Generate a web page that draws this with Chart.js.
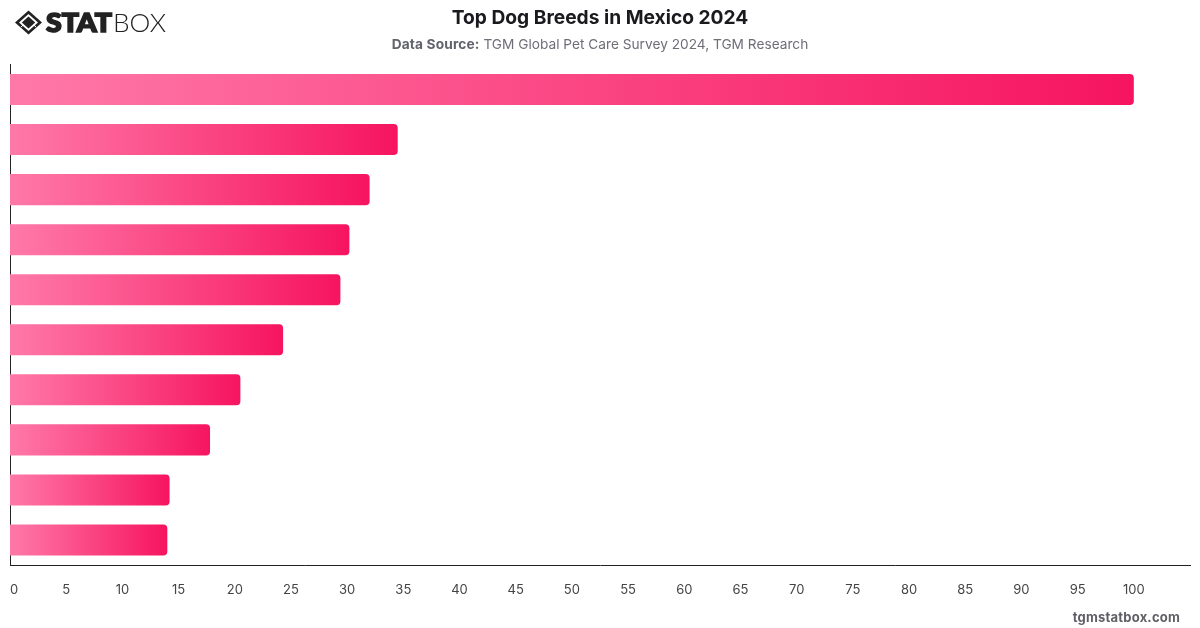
<!DOCTYPE html>
<html lang="en">
<head>
<meta charset="utf-8">
<title>Top Dog Breeds in Mexico 2024</title>
<script src="https://cdn.jsdelivr.net/npm/chart.js"></script>
<style>
  html, body { margin: 0; padding: 0; background: #fff; }
  .frame { position: relative; width: 1200px; height: 628px; overflow: hidden; font-family: Inter, sans-serif; }
  canvas { position: absolute; left: 0; top: 0; }
  .logo { position: absolute; left: 0; top: 0; }
  .title { position: absolute; left: 0; width: 1200px; top: 5px; text-align: center; font-size: 19.2px; line-height: 24px; font-weight: 700; color: #1a1a1e; }
  .source { position: absolute; left: 0; width: 1200px; top: 35px; text-align: center; font-size: 13.7px; line-height: 18px; color: #6e6e78; }
  .source b { font-weight: 700; color: #62626c; letter-spacing: 0.15px; }
  .site { position: absolute; right: 20px; top: 609px; font-size: 13px; line-height: 16px; font-weight: 700; color: #5f5f66; letter-spacing: 0.2px; }
</style>
</head>
<body>
<div class="frame">
  <canvas id="chart" width="1200" height="628"></canvas>
  <svg class="logo" width="200" height="50" viewBox="0 0 200 50">
    <path d="M28.5 10.5 L42 22.5 L28.5 34.5 L15 22.5 Z M28.5 14 L19 22.5 L28.5 31 L38 22.5 Z" fill="#222" fill-rule="evenodd"/>
    <path d="M28.5 16.5 L35.2 22.5 L28.5 28.5 L21.8 22.5 Z" fill="#222"/>
    <path d="M21 27 L23 25.2 M36 27 L34 25.2" stroke="#fff" stroke-width="1"/>
    <text x="46" y="32" font-family="Lato, sans-serif" font-weight="900" font-size="26" fill="#222" stroke="#222" stroke-width="1.6" textLength="66" lengthAdjust="spacingAndGlyphs">STAT</text>
    <text x="113" y="32" font-family="Lato, sans-serif" font-weight="300" font-size="26" fill="#222" textLength="53" lengthAdjust="spacingAndGlyphs">BOX</text>
  </svg>
  <div class="title">Top Dog Breeds in Mexico 2024</div>
  <div class="source"><b>Data Source:</b> TGM Global Pet Care Survey 2024, TGM Research</div>
  <div class="site">tgmstatbox.com</div>
</div>
<script>
// Breed names are not drawn on the axis, so the rows are just ranked
const ranks = ['1', '2', '3', '4', '5', '6', '7', '8', '9', '10'];
const shares = [100, 34.5, 32, 30.2, 29.4, 24.3, 20.5, 17.8, 14.2, 14];

const AXIS_MAX = 105;
const LAST_LABEL = 100;

// Each bar fades from light to full pink along its own length
function barGradient(context) {
  const { chart, parsed } = context;
  if (!chart.chartArea || !parsed) return '#fb4d87';
  const x = chart.scales.x;
  const g = chart.ctx.createLinearGradient(x.getPixelForValue(0), 0, x.getPixelForValue(parsed.x), 0);
  g.addColorStop(0, '#ff79a8');
  g.addColorStop(1, '#f61460');
  return g;
}

new Chart(document.getElementById('chart'), {
  type: 'bar',
  data: {
    labels: ranks,
    datasets: [{
      data: shares,
      backgroundColor: barGradient,
      borderRadius: 4,
      borderSkipped: 'start',
      barPercentage: 0.62,
      categoryPercentage: 1
    }]
  },
  options: {
    indexAxis: 'y',
    responsive: false,
    animation: false,
    layout: { padding: { left: 10, right: 10, top: 64.5, bottom: 23 } },
    plugins: { legend: { display: false }, tooltip: { enabled: false }, title: { display: false } },
    scales: {
      x: {
        min: 0,
        max: AXIS_MAX,
        // no extra side padding for the tick labels, the plot spans the full width
        afterFit: scale => {
          scale.height = 40;
          scale.paddingLeft = 0;
          scale.paddingRight = 0;
        },
        grid: { display: false },
        border: { display: true, color: '#222', width: 1 },
        ticks: {
          stepSize: 5,
          align: 'inner',
          autoSkip: false,
          maxRotation: 0,
          padding: 9,
          color: '#444',
          font: { family: 'Inter', size: 13 },
          callback: v => (v > LAST_LABEL ? '' : v)
        }
      },
      y: {
        afterFit: scale => { scale.width = 0; },
        grid: { display: false },
        border: { display: true, color: '#222', width: 1 },
        ticks: { display: false }
      }
    }
  }
});
</script>
</body>
</html>
